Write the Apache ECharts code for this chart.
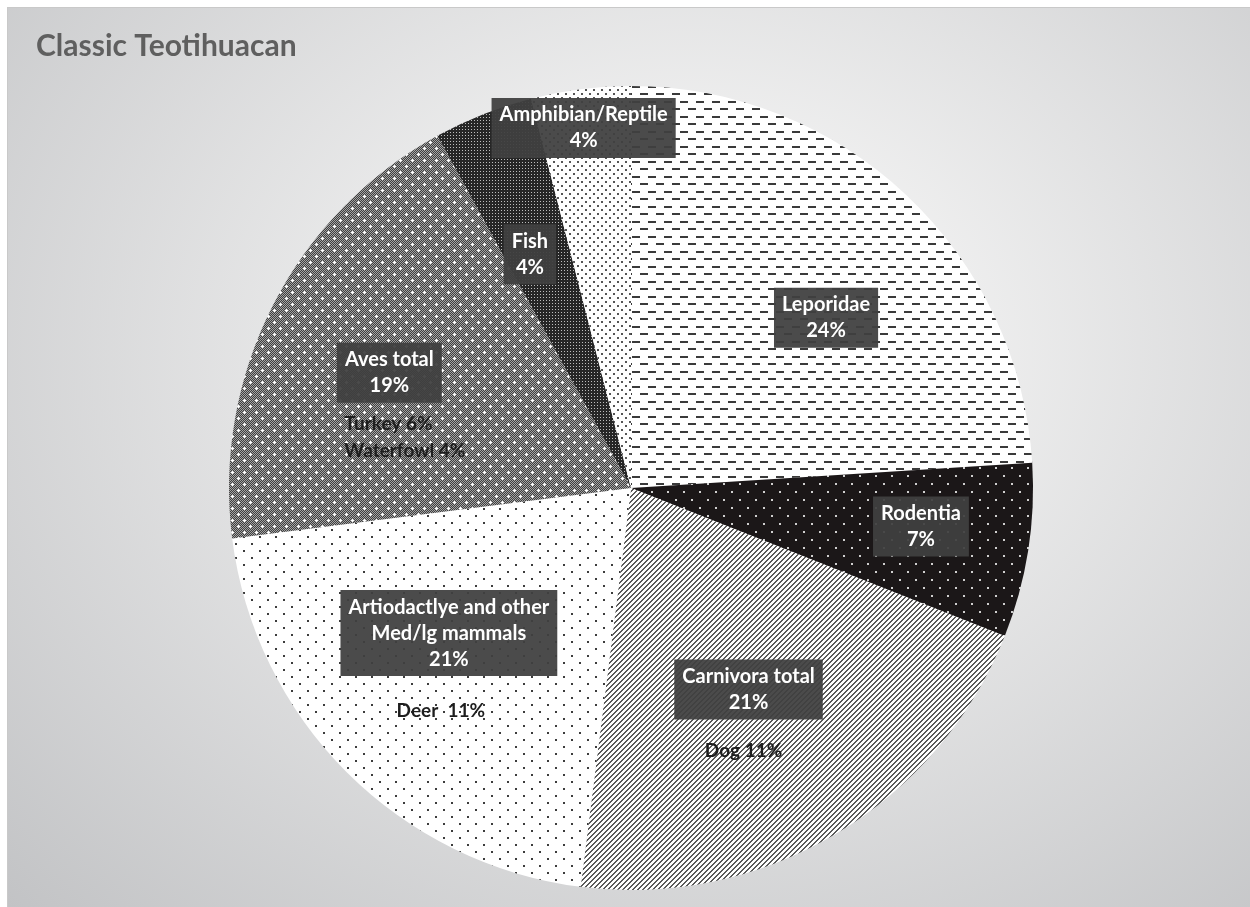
<!DOCTYPE html>
<html>
<head>
<meta charset="utf-8">
<script src="https://cdn.jsdelivr.net/npm/echarts@6/dist/echarts.min.js"></script>
<style>
  html, body { margin: 0; padding: 0; background: #ffffff; }
  #pieChart {
    position: absolute;
    left: 7px;
    top: 7px;
    width: 1243px;
    height: 900px;
    border-top: 1px solid #c9c9c9;
    border-left: 1px solid #c9c9c9;
    box-sizing: border-box;
    background: radial-gradient(farthest-corner at 55% 38%, #ffffff 0%, #f2f2f2 22%, #c2c3c5 100%);
  }
</style>
</head>
<body>
<div id="pieChart"></div>
<script>
  // data
  const categories = ['Leporidae', 'Rodentia', 'Carnivora total', 'Artiodactlye and other\nMed/lg mammals', 'Aves total', 'Fish', 'Amphibian/Reptile'];
  const percents = [24, 7, 21, 21, 19, 4, 4];
  const subLabels = [[], [], ['Dog 11%'], ['Deer  11%'], ['Turkey 6%', 'Waterfowl 4%'], [], []];

  // layout (label centres relative to the pie centre, px)
  const radius = 402;
  const mainLabelAt = [[193, -168], [287, 38], [116, 199], [-180, 143], [-239, -114], [-100, -231], [-47, -357]];
  const subLabelAt = [null, null, [111, 260], [-188, 221], [-219, -49], null, null];

  const tile = (w, h, draw) => {
    const c = document.createElement('canvas');
    c.width = w; c.height = h;
    const ctx = c.getContext('2d');
    draw(ctx, w, h);
    return { image: c, repeat: 'repeat' };
  };

  const patterns = [
    // dashes
    tile(16, 15, (ctx, w, h) => {
      ctx.fillStyle = '#fff'; ctx.fillRect(0, 0, w, h);
      ctx.fillStyle = '#3a3a3a';
      ctx.fillRect(0, 3, 8, 2);
      ctx.fillRect(8, 10, 8, 2);
    }),
    // black with light dots
    tile(16, 16, (ctx, w, h) => {
      ctx.fillStyle = '#1b1718'; ctx.fillRect(0, 0, w, h);
      ctx.fillStyle = '#d0d0d0';
      ctx.fillRect(3, 3, 2, 2);
      ctx.fillRect(11, 11, 2, 2);
    }),
    // diagonal stripes
    tile(5, 5, (ctx, w, h) => {
      ctx.fillStyle = '#fff'; ctx.fillRect(0, 0, w, h);
      ctx.fillStyle = '#5a5a5a';
      for (let x = 0; x < w; x++) {
        for (let y = 0; y < h; y++) {
          if ((x + y) % 5 < 2) ctx.fillRect(x, y, 1, 1);
        }
      }
    }),
    // sparse dots
    tile(16, 14, (ctx, w, h) => {
      ctx.fillStyle = '#fff'; ctx.fillRect(0, 0, w, h);
      ctx.fillStyle = '#3c3c3c';
      ctx.fillRect(3, 3, 2, 2);
      ctx.fillRect(11, 10, 2, 2);
    }),
    // grey checker with white crosses
    tile(12, 12, (ctx, w, h) => {
      for (let x = 0; x < w; x++) {
        for (let y = 0; y < h; y++) {
          ctx.fillStyle = (x + y) % 2 ? '#3f3f3f' : '#a4a4a4';
          ctx.fillRect(x, y, 1, 1);
        }
      }
      ctx.fillStyle = '#fff';
      [[2, 2], [8, 8]].forEach(p => {
        ctx.fillRect(p[0] - 1, p[1], 3, 1);
        ctx.fillRect(p[0], p[1] - 1, 1, 3);
      });
    }),
    // dark fine grid
    tile(3, 3, (ctx, w, h) => {
      ctx.fillStyle = '#262626'; ctx.fillRect(0, 0, w, h);
      ctx.fillStyle = '#bdbdbd';
      ctx.fillRect(1, 1, 1, 1);
    }),
    // denser dots
    tile(8, 8, (ctx, w, h) => {
      ctx.fillStyle = '#fff'; ctx.fillRect(0, 0, w, h);
      ctx.fillStyle = '#555';
      ctx.fillRect(1, 1, 2, 2);
      ctx.fillRect(5, 5, 2, 2);
    })
  ];

  // inside labels sit at radius/2 on the slice's middle angle; offset them from there
  const total = percents.reduce((a, b) => a + b, 0);
  let cum = 0;
  const insidePos = percents.map(v => {
    const a = (-90 + (cum + v / 2) / total * 360) * Math.PI / 180;
    cum += v;
    return [radius / 2 * Math.cos(a), radius / 2 * Math.sin(a)];
  });

  const mainData = categories.map((name, i) => ({
    name: name,
    value: percents[i],
    itemStyle: { color: patterns[i] },
    label: {
      offset: [mainLabelAt[i][0] - insidePos[i][0], mainLabelAt[i][1] - insidePos[i][1]]
    }
  }));

  const subData = categories.map((name, i) => ({
    name: name,
    value: percents[i],
    label: subLabels[i].length ? {
      show: true,
      formatter: subLabels[i].map(s => '{' + (i === 4 ? 'l' : 'c') + '|' + s + '}').join('\n'),
      offset: [subLabelAt[i][0] - insidePos[i][0], subLabelAt[i][1] - insidePos[i][1]]
    } : { show: false }
  }));

  const subText = { fontFamily: 'Lato', fontSize: 19, fontWeight: 'bold', color: '#1e1e1e', lineHeight: 27 };

  const option = {
    animation: false,
    title: {
      text: 'Classic Teotihuacan',
      left: 23,
      top: 18,
      textStyle: { fontFamily: 'Lato', fontSize: 30, fontWeight: 'bold', color: '#5f5f5f' }
    },
    series: [
      {
        type: 'pie',
        center: [623, 480],
        radius: radius,
        startAngle: 90,
        clockwise: true,
        avoidLabelOverlap: false,
        silent: true,
        itemStyle: { borderWidth: 0 },
        label: {
          show: true,
          position: 'inside',
          formatter: p => p.name + '\n' + p.value + '%',
          fontFamily: 'Lato',
          fontSize: 20,
          fontWeight: 'bold',
          color: '#ffffff',
          lineHeight: 26,
          align: 'center',
          backgroundColor: 'rgba(64,64,64,0.94)',
          padding: [5, 8, 3, 8]
        },
        labelLine: { show: false },
        data: mainData
      },
      {
        type: 'pie',
        center: [623, 480],
        radius: radius,
        startAngle: 90,
        clockwise: true,
        avoidLabelOverlap: false,
        silent: true,
        itemStyle: { color: 'rgba(0,0,0,0)' },
        label: {
          position: 'inside',
          rich: {
            l: Object.assign({ width: 130, align: 'left' }, subText),
            c: Object.assign({ align: 'center' }, subText)
          }
        },
        labelLine: { show: false },
        data: subData
      }
    ]
  };

  const myChart = echarts.init(document.getElementById('pieChart'));
  option && myChart.setOption(option);
</script>
</body>
</html>
